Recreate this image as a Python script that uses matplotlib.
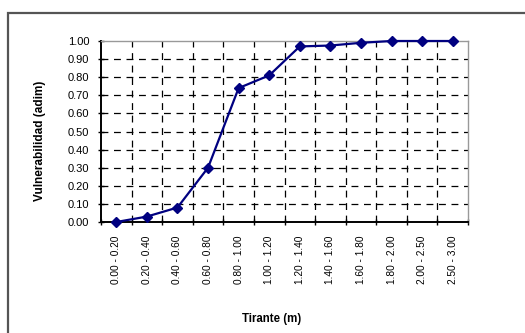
import matplotlib
matplotlib.use("Agg")
import matplotlib.pyplot as plt
from matplotlib.patches import Rectangle
from matplotlib.ticker import FixedLocator, NullFormatter

categories = ["0.00 - 0.20", "0.20 - 0.40", "0.40 - 0.60", "0.60 - 0.80", "0.80 - 1.00",
              "1.00 - 1.20", "1.20 - 1.40", "1.40 - 1.60", "1.60 - 1.80", "1.80 - 2.00",
              "2.00 - 2.50", "2.50 - 3.00"]
vulnerabilidad = [0.00, 0.03, 0.08, 0.30, 0.74, 0.81, 0.97, 0.975, 0.99, 1.00, 1.00, 1.00]
y_ticks = [0.0, 0.1, 0.2, 0.3, 0.4, 0.5, 0.6, 0.7, 0.8, 0.9, 1.0]

plt.rcParams['font.family'] = ['Liberation Sans', 'DejaVu Sans']

W, H = 525, 333
fig = plt.figure(figsize=(W/100, H/100), dpi=100)
fig.patch.set_facecolor('white')

# outer chart frame
fig.patches.append(Rectangle((8/W, -0.1), 1.2, (H - 13)/H + 0.1, transform=fig.transFigure,
                             fill=False, edgecolor='#555555', linewidth=1.6))

left, right, top, bottom = 101, 468, 41, 222
ax = fig.add_axes([left/W, 1 - bottom/H, (right-left)/W, (bottom-top)/H])

n = len(categories)
x = list(range(n))
ax.plot(x, vulnerabilidad, color='#000080', linewidth=1.6, marker='D', markersize=5.5,
        markerfacecolor='#000080', markeredgecolor='#000080', zorder=5, clip_on=False)

ax.set_xlim(-0.5, n - 0.5)
ax.set_ylim(0, 1.0)

ax.yaxis.set_major_locator(FixedLocator(y_ticks))
ax.set_yticklabels([f"{v:.2f}" for v in y_ticks], fontsize=8)

ax.xaxis.set_major_locator(FixedLocator(x))
ax.set_xticklabels(categories, rotation=90, fontsize=7.3)
ax.tick_params(axis='x', length=0, pad=10)
bounds = [i - 0.5 for i in range(n + 1)]
ax.xaxis.set_minor_locator(FixedLocator(bounds))
ax.xaxis.set_minor_formatter(NullFormatter())
ax.tick_params(axis='x', which='minor', direction='inout', length=5, width=1, color='black')
ax.tick_params(axis='y', direction='inout', length=5, width=1, pad=6)

dash = (0, (5.5, 4.5))
for yv in y_ticks[1:-1]:
    ax.axhline(yv, color='black', linestyle=dash, linewidth=0.9, zorder=1)
for b in bounds[1:-1]:
    ax.axvline(b, color='black', linestyle=dash, linewidth=0.9, zorder=1)

for s in ['left', 'bottom']:
    ax.spines[s].set_linewidth(1.4)
    ax.spines[s].set_color('black')
for s in ['top', 'right']:
    ax.spines[s].set_linewidth(1.0)
    ax.spines[s].set_color('#999999')

fig.text(40/W, 1 - 141/H, "Vulnerabilidad (adim)", rotation=90, ha='center', va='center',
         fontsize=8.5, fontweight='bold')
fig.text(272/W, 1 - 319/H, "Tirante (m)", ha='center', va='center', fontsize=8.3,
         fontweight='bold')

fig.savefig("out.png", dpi=100, facecolor='white')
